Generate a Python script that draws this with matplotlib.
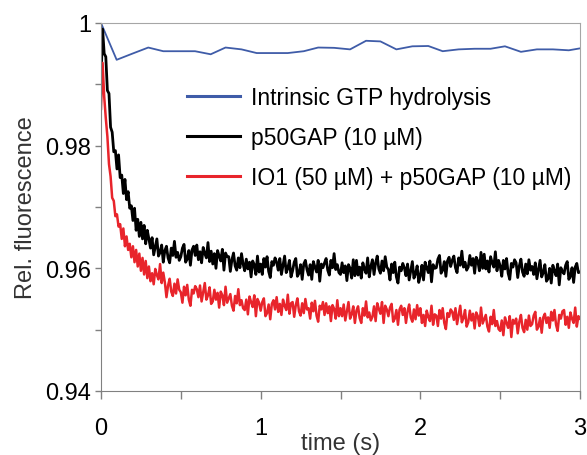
import numpy as np
import matplotlib as mpl
mpl.use("Agg")
import matplotlib.pyplot as plt

plt.rcParams['font.family'] = ['Liberation Sans', 'DejaVu Sans']

# intrinsic hydrolysis, sparse sampling
blue_t = [0.0, 0.098, 0.196, 0.296, 0.39, 0.49, 0.589, 0.687, 0.78, 0.88,
          0.975, 1.07, 1.17, 1.27, 1.36, 1.46, 1.56, 1.66, 1.75, 1.85,
          1.95, 2.05, 2.14, 2.24, 2.34, 2.44, 2.53, 2.63, 2.73, 2.83,
          2.93, 3.03]
blue_y = [1.0, 0.9940, 0.9950, 0.9960, 0.9954, 0.9954, 0.9954, 0.9949, 0.9960, 0.9957,
          0.9951, 0.9951, 0.9951, 0.9954, 0.9960, 0.99595, 0.9957, 0.9971, 0.9970, 0.9957,
          0.9962, 0.99625, 0.9954, 0.9957, 0.9958, 0.9958, 0.9962, 0.9953, 0.9957, 0.9957,
          0.99555, 0.9960]

# traces read every 10 ms
t_step = 0.01

black_y = [
    0.9905, 0.9990, 0.9950, 0.9945, 0.9890, 0.9885, 0.9830, 0.9822, 0.9790, 0.9792,
    0.9762, 0.9785, 0.9748, 0.9752, 0.9722, 0.9745, 0.9712, 0.9725, 0.9698, 0.9702,
    0.9678, 0.9698, 0.9662, 0.9680, 0.9652, 0.9675, 0.9648, 0.9670, 0.9640, 0.9662,
    0.9648, 0.9633, 0.9650, 0.9622, 0.9635, 0.9648, 0.9620, 0.9626, 0.9638, 0.9610,
    0.9629, 0.9636, 0.9617, 0.9609, 0.9633, 0.9621, 0.9644, 0.9618, 0.9626, 0.9613,
    0.9619, 0.9633, 0.9639, 0.9610, 0.9615, 0.9629, 0.9605, 0.9630, 0.9636, 0.9621,
    0.9638, 0.9614, 0.9627, 0.9609, 0.9634, 0.9624, 0.9617, 0.9642, 0.9611, 0.9628,
    0.9607, 0.9624, 0.9600, 0.9629, 0.9620, 0.9612, 0.9631, 0.9597, 0.9625, 0.9619,
    0.9619, 0.9595, 0.9614, 0.9625, 0.9604, 0.9597, 0.9617, 0.9601, 0.9624, 0.9607,
    0.9596, 0.9615, 0.9599, 0.9610, 0.9586, 0.9612, 0.9606, 0.9590, 0.9620, 0.9594,
    0.9607, 0.9590, 0.9616, 0.9602, 0.9619, 0.9595, 0.9585, 0.9611, 0.9605, 0.9617,
    0.9610, 0.9597, 0.9616, 0.9590, 0.9605, 0.9620, 0.9593, 0.9600, 0.9613, 0.9586,
    0.9596, 0.9610, 0.9616, 0.9587, 0.9592, 0.9606, 0.9582, 0.9607, 0.9613, 0.9598,
    0.9589, 0.9606, 0.9582, 0.9611, 0.9602, 0.9594, 0.9613, 0.9579, 0.9607, 0.9601,
    0.9609, 0.9616, 0.9597, 0.9589, 0.9613, 0.9601, 0.9624, 0.9598, 0.9606, 0.9593,
    0.9590, 0.9609, 0.9593, 0.9604, 0.9580, 0.9606, 0.9600, 0.9584, 0.9614, 0.9588,
    0.9613, 0.9589, 0.9602, 0.9584, 0.9609, 0.9599, 0.9592, 0.9617, 0.9586, 0.9603,
    0.9614, 0.9590, 0.9609, 0.9620, 0.9599, 0.9592, 0.9612, 0.9596, 0.9619, 0.9602,
    0.9598, 0.9581, 0.9607, 0.9593, 0.9610, 0.9586, 0.9576, 0.9602, 0.9596, 0.9608,
    0.9601, 0.9588, 0.9607, 0.9581, 0.9596, 0.9611, 0.9584, 0.9591, 0.9604, 0.9577,
    0.9588, 0.9605, 0.9581, 0.9610, 0.9601, 0.9593, 0.9612, 0.9578, 0.9606, 0.9600,
    0.9601, 0.9615, 0.9621, 0.9592, 0.9597, 0.9611, 0.9587, 0.9612, 0.9618, 0.9603,
    0.9613, 0.9620, 0.9601, 0.9593, 0.9617, 0.9605, 0.9628, 0.9602, 0.9610, 0.9597,
    0.9602, 0.9621, 0.9605, 0.9616, 0.9592, 0.9618, 0.9612, 0.9596, 0.9626, 0.9600,
    0.9623, 0.9599, 0.9612, 0.9594, 0.9619, 0.9609, 0.9602, 0.9627, 0.9596, 0.9613,
    0.9604, 0.9587, 0.9613, 0.9599, 0.9616, 0.9592, 0.9582, 0.9608, 0.9602, 0.9614,
    0.9609, 0.9585, 0.9604, 0.9615, 0.9594, 0.9587, 0.9607, 0.9591, 0.9614, 0.9597,
    0.9603, 0.9590, 0.9609, 0.9583, 0.9598, 0.9613, 0.9586, 0.9593, 0.9606, 0.9579,
    0.9583, 0.9600, 0.9576, 0.9605, 0.9596, 0.9588, 0.9607, 0.9573, 0.9601, 0.9595,
    0.9591, 0.9605, 0.9611, 0.9582, 0.9587, 0.9601, 0.9577, 0.9602, 0.9608, 0.9593,
    0.9594]

red_y = [
    0.9860, 0.9935, 0.9880, 0.9845, 0.9815, 0.9770, 0.9750, 0.9715, 0.9710, 0.9685,
    0.9688, 0.9668, 0.9672, 0.9648, 0.9665, 0.9636, 0.9652, 0.9630, 0.9640, 0.9618,
    0.9636, 0.9610, 0.9630, 0.9603, 0.9624, 0.9596, 0.9617, 0.9590, 0.9612, 0.9584,
    0.9603, 0.9579, 0.9592, 0.9574, 0.9599, 0.9589, 0.9582, 0.9607, 0.9576, 0.9593,
    0.9577, 0.9553, 0.9572, 0.9583, 0.9562, 0.9555, 0.9575, 0.9559, 0.9582, 0.9565,
    0.9561, 0.9544, 0.9570, 0.9556, 0.9573, 0.9549, 0.9539, 0.9565, 0.9559, 0.9571,
    0.9566, 0.9553, 0.9572, 0.9546, 0.9561, 0.9576, 0.9549, 0.9556, 0.9569, 0.9542,
    0.9546, 0.9565, 0.9549, 0.9560, 0.9536, 0.9562, 0.9556, 0.9540, 0.9570, 0.9544,
    0.9551, 0.9558, 0.9539, 0.9531, 0.9555, 0.9543, 0.9566, 0.9540, 0.9548, 0.9535,
    0.9532, 0.9549, 0.9525, 0.9554, 0.9545, 0.9537, 0.9556, 0.9522, 0.9550, 0.9544,
    0.9531, 0.9545, 0.9551, 0.9522, 0.9527, 0.9541, 0.9517, 0.9542, 0.9548, 0.9533,
    0.9553, 0.9529, 0.9542, 0.9524, 0.9549, 0.9539, 0.9532, 0.9557, 0.9526, 0.9543,
    0.9545, 0.9521, 0.9540, 0.9551, 0.9530, 0.9523, 0.9543, 0.9527, 0.9550, 0.9533,
    0.9535, 0.9518, 0.9544, 0.9530, 0.9547, 0.9523, 0.9513, 0.9539, 0.9533, 0.9545,
    0.9524, 0.9543, 0.9527, 0.9538, 0.9514, 0.9540, 0.9534, 0.9518, 0.9548, 0.9522,
    0.9535, 0.9522, 0.9541, 0.9515, 0.9530, 0.9545, 0.9518, 0.9525, 0.9538, 0.9511,
    0.9531, 0.9538, 0.9519, 0.9511, 0.9535, 0.9523, 0.9546, 0.9520, 0.9528, 0.9515,
    0.9521, 0.9538, 0.9514, 0.9543, 0.9534, 0.9526, 0.9545, 0.9511, 0.9539, 0.9533,
    0.9522, 0.9536, 0.9542, 0.9513, 0.9518, 0.9532, 0.9508, 0.9533, 0.9539, 0.9524,
    0.9535, 0.9511, 0.9530, 0.9541, 0.9520, 0.9513, 0.9533, 0.9517, 0.9540, 0.9523,
    0.9535, 0.9511, 0.9524, 0.9506, 0.9531, 0.9521, 0.9514, 0.9539, 0.9508, 0.9525,
    0.9523, 0.9506, 0.9532, 0.9518, 0.9535, 0.9511, 0.9501, 0.9527, 0.9521, 0.9533,
    0.9529, 0.9516, 0.9535, 0.9509, 0.9524, 0.9539, 0.9512, 0.9519, 0.9532, 0.9505,
    0.9512, 0.9531, 0.9515, 0.9526, 0.9502, 0.9528, 0.9522, 0.9506, 0.9536, 0.9510,
    0.9517, 0.9524, 0.9505, 0.9497, 0.9521, 0.9509, 0.9532, 0.9506, 0.9514, 0.9501,
    0.9498, 0.9515, 0.9491, 0.9520, 0.9511, 0.9503, 0.9522, 0.9488, 0.9516, 0.9510,
    0.9518, 0.9494, 0.9513, 0.9524, 0.9503, 0.9496, 0.9516, 0.9500, 0.9523, 0.9506,
    0.9509, 0.9523, 0.9529, 0.9500, 0.9505, 0.9519, 0.9495, 0.9520, 0.9526, 0.9511,
    0.9520, 0.9503, 0.9529, 0.9515, 0.9532, 0.9508, 0.9498, 0.9524, 0.9518, 0.9530,
    0.9532, 0.9508, 0.9521, 0.9503, 0.9528, 0.9518, 0.9511, 0.9536, 0.9505, 0.9522,
    0.9518]

labels = ["Intrinsic GTP hydrolysis", "p50GAP (10 \u00b5M)",
          "IO1 (50 \u00b5M) + p50GAP (10 \u00b5M)"]

x_ticks = [0, 0.5, 1, 1.5, 2, 2.5, 3]
x_ticklabels = ["0", "", "1", "", "2", "", "3"]
y_ticks = [0.94, 0.95, 0.96, 0.97, 0.98, 0.99, 1.0]
y_ticklabels = ["0.94", "", "0.96", "", "0.98", "", "1"]

black_t = np.arange(len(black_y)) * t_step
red_t = np.arange(len(red_y)) * t_step

fig = plt.figure(figsize=(5.87, 4.56), dpi=100)
ax = fig.add_axes([101 / 587, 1 - 392 / 456, 479 / 587, 368 / 456])

ax.plot(blue_t, blue_y, color="#3f5ca8", linewidth=1.3, label=labels[0])
ax.plot(black_t, black_y, color="black", linewidth=2.0, label=labels[1])
ax.plot(red_t, red_y, color="#e8242b", linewidth=1.8, label=labels[2])

ax.set_xlim(0, 3)
ax.set_ylim(0.94, 1.0)

ax.set_xticks(x_ticks)
ax.set_xticklabels(x_ticklabels)
ax.set_yticks(y_ticks)
ax.set_yticklabels(y_ticklabels)

ax.tick_params(axis="both", direction="out", color="#808080", width=1,
               labelsize=17)
ax.tick_params(axis="x", length=6, pad=13)
ax.tick_params(axis="y", length=4, pad=3)

for s in ["left", "bottom"]:
    ax.spines[s].set_color("#808080")
for s in ["top", "right"]:
    ax.spines[s].set_color("#a6a6a6")

ax.set_xlabel("time (s)", fontsize=17, color="#333333", labelpad=-5)
ax.set_ylabel("Rel. fluorescence", fontsize=17, color="#333333", labelpad=6)

leg = ax.legend(loc="upper left", bbox_to_anchor=(0.18, 0.83), frameon=False,
                fontsize=16.5, handlelength=2.3, handletextpad=0.5,
                labelspacing=0.75, borderpad=0, borderaxespad=0)
for line in leg.get_lines():
    line.set_linewidth(2.2)

fig.savefig("out.png", dpi=100)
